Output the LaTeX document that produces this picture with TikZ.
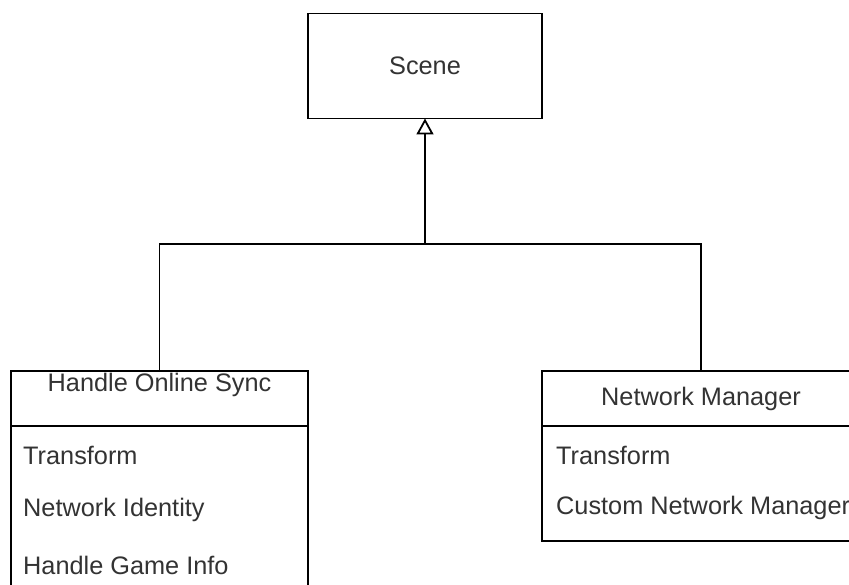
\documentclass[tikz,border=0pt]{standalone}
\usepackage{fontspec}
\setmainfont{Liberation Sans}
\usetikzlibrary{arrows.meta,positioning}

\tikzset{
  box/.style={draw=black, line width=1.8pt, inner sep=0pt, outer sep=0pt, fill=white},
  txt/.style={font=\fontsize{25.3}{29}\selectfont, text=black!80, inner sep=0pt},
  link/.style={draw=black, line width=1.8pt},
}

\begin{document}
\begin{tikzpicture}[x=1pt,y=-1pt]
		\clip (0,0) rectangle (849,585);
		%%%%% START %%%%%
		
		% parent
		\node[box, txt, minimum width=234pt, minimum height=105pt] (scene) at (425,66) {Scene};
		
		% left class
		\node[box, minimum width=297pt, minimum height=225pt, anchor=north] (sync) at (159.5,371) {};
		\node[minimum width=297pt, minimum height=55pt, inner sep=0pt, outer sep=0pt, anchor=north] (synchead) at (sync.north) {};
		\draw[link] (synchead.south west) -- (synchead.south east);
		\node[txt] (synctitle) at (159.5,385) {Handle Online Sync};
		\node[txt, anchor=west] (syncA) at (23,455) {Transform};
		\node[txt, anchor=west] (syncB) at (23,510) {Network Identity};
		\node[txt, anchor=west] (syncC) at (23,565) {Handle Game Info};
		
		% right class
		\node[box, minimum width=318pt, minimum height=170pt, anchor=north] (net) at (701,371) {};
		\node[minimum width=318pt, minimum height=55pt, inner sep=0pt, outer sep=0pt, anchor=north] (nethead) at (net.north) {};
		\draw[link] (nethead.south west) -- (nethead.south east);
		\node[txt] (nettitle) at (nethead.center) {Network Manager};
		\node[txt, anchor=west] (netA) at (556,455) {Transform};
		\node[txt, anchor=west] (netB) at (556,508) {Custom Network Manager};
		
		% generalisation
		\coordinate (joint) at (425,244);
		\draw[link, -{Triangle[open, length=16pt, width=17pt]}] (sync.north) |- (joint) -- (scene.south);
		\draw[link] (net.north) |- (joint);
		
		%%%%% END %%%%%
\end{tikzpicture}
\end{document}
